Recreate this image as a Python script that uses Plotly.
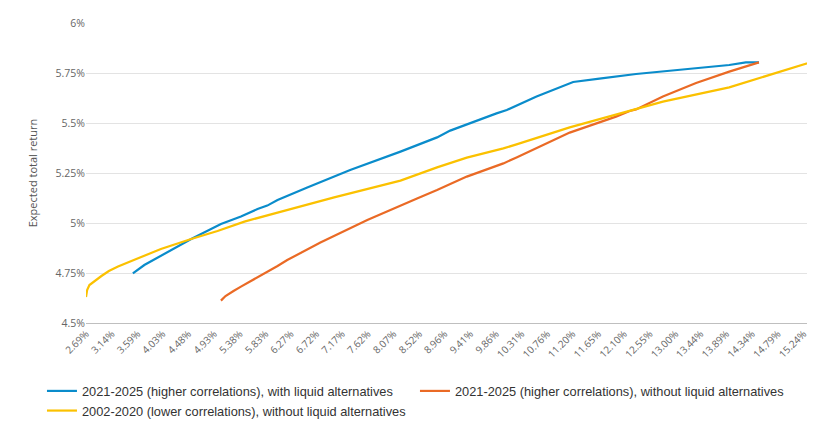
import plotly.graph_objects as go

# Tick labels (expected volatility, %)
x_ticks = [2.69, 3.14, 3.59, 4.03, 4.48, 4.93, 5.38, 5.83, 6.27, 6.72, 7.17, 7.62,
           8.07, 8.52, 8.96, 9.41, 9.86, 10.31, 10.76, 11.20, 11.65, 12.10, 12.55,
           13.00, 13.44, 13.89, 14.34, 14.79, 15.24]
y_ticks = [4.5, 4.75, 5.0, 5.25, 5.5, 5.75, 6.0]
y_tick_text = ["4.5%", "4.75%", "5%", "5.25%", "5.5%", "5.75%", "6%"]

names = [
    "2021-2025 (higher correlations), with liquid alternatives",
    "2021-2025 (higher correlations), without liquid alternatives",
    "2002-2020 (lower correlations), without liquid alternatives",
]
colors = ["#0a8ccb", "#ea6a25", "#fbc100"]

# Series 1: 2021-2025 with liquid alternatives
blue_x = [3.51, 3.71, 4.53, 5.05, 5.40, 5.69, 5.86, 6.04, 6.56, 7.31, 8.19, 8.83,
          9.06, 9.70, 9.87, 10.05, 10.57, 11.21, 11.44, 11.67, 12.31, 12.78,
          13.36, 13.94, 14.23, 14.46]
blue_y = [4.748, 4.79, 4.92, 4.995, 5.032, 5.07, 5.087, 5.115, 5.178, 5.265, 5.357,
          5.428, 5.462, 5.532, 5.548, 5.565, 5.632, 5.705, 5.712, 5.722, 5.745,
          5.757, 5.773, 5.79, 5.803, 5.803]

# Series 2: 2021-2025 without liquid alternatives
orange_x = [5.05, 5.13, 5.27, 5.40, 6.04, 6.21, 6.79, 7.61, 8.48, 8.83, 9.35, 9.99,
            10.22, 11.15, 11.96, 12.20, 12.31, 12.78, 13.36, 13.94, 14.46]
orange_y = [4.612, 4.635, 4.66, 4.682, 4.785, 4.815, 4.902, 5.015, 5.123, 5.165,
            5.232, 5.298, 5.328, 5.452, 5.532, 5.56, 5.568, 5.632, 5.70, 5.757, 5.803]

# Series 3: 2002-2020 without liquid alternatives
yellow_x = [2.69, 2.71, 2.75, 2.84, 2.96, 3.09, 3.25, 3.57, 4.00, 4.53, 4.99, 5.46,
            5.86, 6.04, 7.03, 8.19, 8.83, 9.35, 9.99, 10.22, 11.15, 12.31, 12.78,
            13.94, 15.43]
yellow_y = [4.63, 4.665, 4.69, 4.71, 4.735, 4.76, 4.782, 4.82, 4.87, 4.92, 4.96,
            5.007, 5.04, 5.052, 5.128, 5.212, 5.278, 5.327, 5.373, 5.393, 5.478,
            5.568, 5.607, 5.678, 5.81]

series = [(blue_x, blue_y), (orange_x, orange_y), (yellow_x, yellow_y)]

fig = go.Figure()
for (xs, ys), name, col in zip(series, names, colors):
    fig.add_trace(go.Scatter(x=xs, y=ys, mode="lines", name=name,
                             line=dict(color=col, width=2.2)))

fig.update_layout(
    width=807, height=428,
    margin=dict(l=78, r=0, t=15, b=113),
    paper_bgcolor="white", plot_bgcolor="white",
    font=dict(family="Open Sans, sans-serif", size=10, color="#666666"),
    showlegend=True,
    legend=dict(orientation="h", x=-0.0604, xanchor="left", y=-0.177, yanchor="top",
                entrywidth=328, entrywidthmode="pixels", traceorder="normal",
                font=dict(family="Liberation Sans, Arial, sans-serif", size=12.8,
                          color="#333333"),
                itemwidth=30),
)
fig.update_xaxes(
    range=[2.69, 15.44],
    tickmode="array", tickvals=x_ticks,
    ticktext=[f"{v:.2f}%" for v in x_ticks],
    tickangle=-45, showgrid=False, zeroline=False,
    showline=True, linecolor="#bfbfbf", linewidth=1,
    ticks="", automargin=False,
    tickfont=dict(size=10, color="#666666"),
)
fig.update_yaxes(
    range=[4.5, 6.0],
    tickmode="array", tickvals=y_ticks, ticktext=y_tick_text,
    showgrid=True, gridcolor="#e3e3e3", gridwidth=1, zeroline=False,
    showline=False, ticks="", automargin=False,
    tickfont=dict(size=10.5, color="#666666"),
    title=dict(text="Expected total return",
               font=dict(size=11, color="#555555")),
)

fig.write_html("out.html")
